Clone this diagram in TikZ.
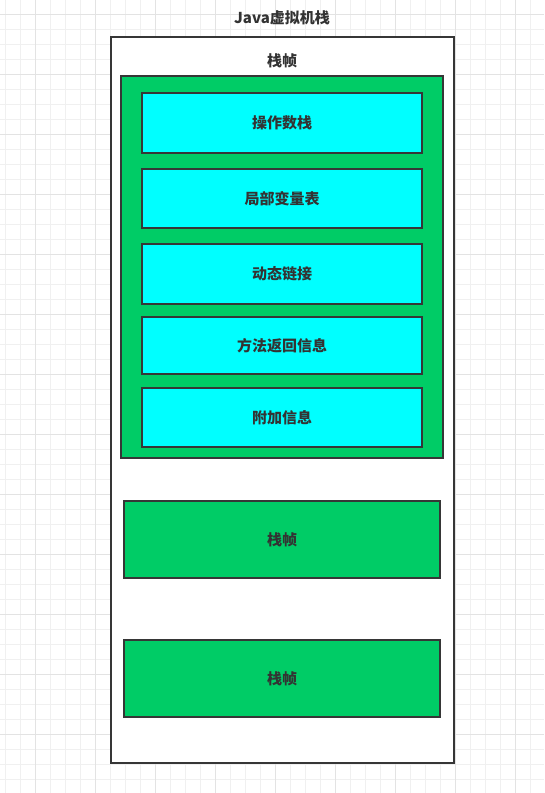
\documentclass[tikz,border=0pt]{standalone}
\usepackage{fontspec}
\setmainfont{Noto Sans CJK SC}
\definecolor{gridminor}{HTML}{F0F0F0}
\definecolor{gridmajor}{HTML}{E3E3E3}
\definecolor{edge}{HTML}{363636}
\definecolor{frame}{HTML}{00CC66}
\definecolor{slot}{HTML}{00FFFF}
\definecolor{txt}{HTML}{333333}
\begin{document}
\begin{tikzpicture}[x=1pt,y=-1pt,
  box/.style={draw=edge,line width=2pt},
  lbl/.style={text=txt,font=\fontsize{15}{15}\selectfont\bfseries,inner sep=0pt},
]
\useasboundingbox (0,0) rectangle (544,793);
\fill[white] (0,0) rectangle (544,793);
% grid
\foreach \i in {0,...,35} {
  \pgfmathsetmacro\gx{5.7+15*\i}
  \draw[gridminor,line width=1pt] (\gx,0) -- (\gx,793);
}
\foreach \i in {0,...,52} {
  \pgfmathsetmacro\gy{-0.7+15*\i}
  \draw[gridminor,line width=1pt] (0,\gy) -- (544,\gy);
}
\foreach \i in {0,...,8} {
  \pgfmathsetmacro\gx{35.7+60*\i}
  \draw[gridmajor,line width=1pt] (\gx,0) -- (\gx,793);
}
\foreach \i in {0,...,13} {
  \pgfmathsetmacro\gy{14.3+60*\i}
  \draw[gridmajor,line width=1pt] (0,\gy) -- (544,\gy);
}
% outer stack
\node[lbl] (title) at (282,18) {Java虚拟机栈};
\draw[box,fill=white] (111,37) rectangle (454,763);
\node[lbl] (framelbl) at (282,60.5) {栈帧};
% current frame
\draw[box,fill=frame] (121,76) rectangle (442.5,458);
\node[box,fill=slot,minimum width=280pt,minimum height=60pt,inner sep=0pt,lbl,draw=edge] (s1) at (282,123) {操作数栈};
\node[box,fill=slot,minimum width=280pt,minimum height=59pt,inner sep=0pt,lbl,draw=edge] (s2) at (282,198.5) {局部变量表};
\node[box,fill=slot,minimum width=280pt,minimum height=60pt,inner sep=0pt,lbl,draw=edge] (s3) at (282,274) {动态链接};
\node[box,fill=slot,minimum width=280pt,minimum height=57pt,inner sep=0pt,lbl,draw=edge] (s4) at (282,345.5) {方法返回信息};
\node[box,fill=slot,minimum width=280pt,minimum height=59pt,inner sep=0pt,lbl,draw=edge] (s5) at (282,417.5) {附加信息};
% other frames
\node[box,fill=frame,minimum width=316.5pt,minimum height=77pt,inner sep=0pt,lbl,draw=edge] (f2) at (282,539.3) {栈帧};
\node[box,fill=frame,minimum width=316.5pt,minimum height=77pt,inner sep=0pt,lbl,draw=edge] (f3) at (282,678.5) {栈帧};
\end{tikzpicture}
\end{document}
